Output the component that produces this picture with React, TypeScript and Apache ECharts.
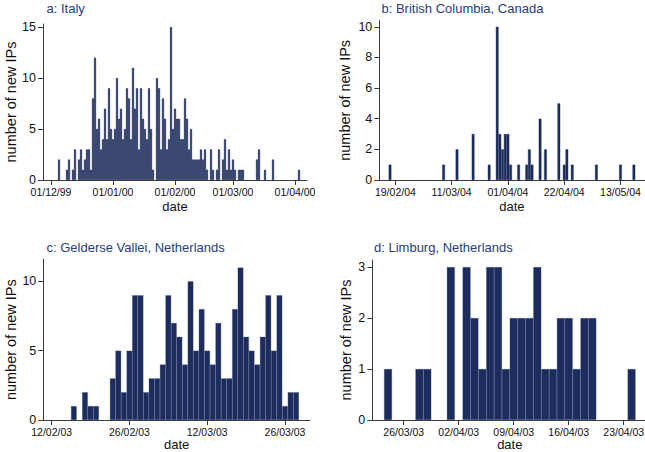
import React, { useEffect, useRef } from 'react';
import * as echarts from 'echarts';

// ---------- data ----------
// a: Italy (daily counts starting at italyStart)
const italyAxisRange = ['1999-11-27', '2000-04-07'];
const italyStart = '1999-12-05';
const italyCounts = [
  2, 0, 0, 0, 1, 2, 0, 1, 3, 0,
  2, 3, 1, 2, 3, 3, 1, 8, 12, 5,
  6, 3, 4, 7, 4, 9, 5, 4, 5, 10,
  6, 7, 4, 5, 9, 8, 4, 11, 7, 9,
  3, 9, 6, 5, 4, 9, 5, 1, 0, 10,
  9, 3, 8, 6, 3, 4, 15, 5, 7, 6,
  6, 4, 4, 8, 6, 3, 5, 2, 2, 2,
  2, 3, 2, 3, 1, 0, 3, 1, 0, 1,
  3, 0, 2, 4, 1, 3, 1, 2, 1, 0,
  1, 1, 1, 0, 0, 0, 0, 0, 0, 2,
  3, 0, 0, 1, 0, 0, 0, 2, 0, 0,
  0, 0, 0, 0, 0, 0, 0, 0, 0, 0,
  1,
];
const italyTicks = ['01/12/99', '01/01/00', '01/02/00', '01/03/00', '01/04/00'];

// b: British Columbia, Canada
const bcAxisRange = ['2004-02-13', '2004-05-22'];
const bcDates = [
  '17/02/04', '08/03/04', '13/03/04', '19/03/04', '25/03/04', '28/03/04',
  '29/03/04', '30/03/04', '31/03/04', '01/04/04', '02/04/04', '05/04/04',
  '08/04/04', '09/04/04', '10/04/04', '13/04/04', '15/04/04', '20/04/04',
  '22/04/04', '23/04/04', '25/04/04', '04/05/04', '13/05/04', '18/05/04',
];
const bcCounts = [1, 1, 2, 3, 1, 10, 3, 2, 3, 3, 1, 1, 1, 2, 1, 4, 2, 5, 1, 2, 1, 1, 1, 1];
const bcTicks = ['19/02/04', '11/03/04', '01/04/04', '22/04/04', '13/05/04'];

// c: Gelderse Vallei, Netherlands (daily counts starting at gvStart)
const gvAxisRange = ['2003-02-11', '2003-03-30'];
const gvStart = '2003-02-16';
const gvCounts = [
  1, 0, 2, 1, 1, 0, 0, 3, 5, 2,
  5, 9, 9, 2, 3, 3, 4, 9, 7, 6,
  4, 10, 5, 8, 5, 4, 7, 3, 3, 8,
  11, 6, 5, 4, 6, 9, 5, 9, 1, 2,
  2,
];
const gvTicks = ['12/02/03', '26/02/03', '12/03/03', '26/03/03'];

// d: Limburg, Netherlands
const limAxisRange = ['2003-03-22', '2003-04-26'];
const limDates = [
  '24/03/03', '28/03/03', '29/03/03', '01/04/03', '03/04/03', '04/04/03',
  '05/04/03', '06/04/03', '07/04/03', '08/04/03', '09/04/03', '10/04/03',
  '11/04/03', '12/04/03', '13/04/03', '14/04/03', '15/04/03', '16/04/03',
  '17/04/03', '18/04/03', '19/04/03', '24/04/03',
];
const limCounts = [1, 1, 1, 3, 3, 2, 1, 3, 3, 1, 2, 2, 2, 3, 1, 1, 2, 2, 1, 2, 2, 1];
const limTicks = ['26/03/03', '02/04/03', '09/04/03', '16/04/03', '23/04/03'];

const titles = ['a: Italy', 'b: British Columbia, Canada', 'c: Gelderse Vallei, Netherlands', 'd: Limburg, Netherlands'];

// ---------- helpers ----------
const DAY = 86400000;
const pad = (n: number) => (n < 10 ? '0' + n : '' + n);
function parseISO(s: string) {
  const [y, m, d] = s.split('-').map(Number);
  return Date.UTC(y, m - 1, d);
}
function fmt(t: number) {
  const d = new Date(t);
  return `${pad(d.getUTCDate())}/${pad(d.getUTCMonth() + 1)}/${pad(d.getUTCFullYear() % 100)}`;
}
function dayRange(a: string, b: string) {
  const out: string[] = [];
  for (let t = parseISO(a); t <= parseISO(b); t += DAY) out.push(fmt(t));
  return out;
}
function seqMap(start: string, counts: number[]) {
  const m: Record<string, number> = {};
  const t0 = parseISO(start);
  counts.forEach((c, i) => { m[fmt(t0 + i * DAY)] = c; });
  return m;
}
function pairMap(dates: string[], counts: number[]) {
  const m: Record<string, number> = {};
  dates.forEach((d, i) => { m[d] = counts[i]; });
  return m;
}

const FONT = '"Liberation Sans", Arial, Helvetica, sans-serif';
const BAR = '#1c2c5c';
const TITLE = '#26407a';
const AXIS = '#3a3a3a';
const TEXT = '#111111';

const panelData = [
  { cats: dayRange(italyAxisRange[0], italyAxisRange[1]), map: seqMap(italyStart, italyCounts), ticks: italyTicks },
  { cats: dayRange(bcAxisRange[0], bcAxisRange[1]), map: pairMap(bcDates, bcCounts), ticks: bcTicks },
  { cats: dayRange(gvAxisRange[0], gvAxisRange[1]), map: seqMap(gvStart, gvCounts), ticks: gvTicks },
  { cats: dayRange(limAxisRange[0], limAxisRange[1]), map: pairMap(limDates, limCounts), ticks: limTicks },
];

const layout = [
  { grid: { left: 43, top: 24, width: 264, height: 156 }, yMax: 15.3, yTicks: [0, 5, 10, 15], boundaryGap: false, title: [46.5, 2], yNameGap: 25, xNameGap: 20, borderColor: BAR, border: 0.5 },
  { grid: { left: 379.3, top: 20.7, width: 265.3, height: 159.3 }, yMax: 10.4, yTicks: [0, 2, 4, 6, 8, 10], boundaryGap: false, title: [381.5, 1.5], yNameGap: 27, xNameGap: 20, borderColor: BAR, border: 0.4 },
  { grid: { left: 43.3, top: 259.3, width: 266.7, height: 160.7 }, yMax: 11.6, yTicks: [0, 5, 10], boundaryGap: true, title: [46.5, 241], yNameGap: 25, xNameGap: 18, borderColor: '#4a5886', border: 0.3 },
  { grid: { left: 372.3, top: 260, width: 275, height: 160 }, yMax: 3.14, yTicks: [0, 1, 2, 3], boundaryGap: false, title: [374, 241], yNameGap: 19, xNameGap: 18, borderColor: '#4a5886', border: 0.3 },
];

export default function App() {
  const ref = useRef<HTMLDivElement>(null);
  useEffect(() => {
    if (!ref.current) return;
    const chart = echarts.init(ref.current, undefined, { renderer: 'svg' });
    const option: any = {
      animation: false,
      backgroundColor: '#ffffff',
      title: titles.map((t, i) => ({
        text: t,
        left: layout[i].title[0],
        top: layout[i].title[1],
        padding: 0,
        textStyle: { fontSize: 13, fontWeight: 'normal', color: TITLE, fontFamily: FONT },
      })),
      grid: layout.map((l) => ({ ...l.grid, containLabel: false, outerBoundsMode: 'none' })),
      xAxis: panelData.map((p, i) => {
        const set = new Set(p.ticks);
        const pick = (_idx: number, val: string) => set.has(val);
        return {
          type: 'category',
          gridIndex: i,
          data: p.cats,
          boundaryGap: layout[i].boundaryGap,
          axisLine: { show: true, lineStyle: { color: AXIS, width: 1 } },
          axisTick: { show: true, length: 5, interval: pick, alignWithLabel: true, lineStyle: { color: AXIS, width: 1 } },
          axisLabel: { interval: pick, fontSize: 10.5, color: TEXT, margin: 6, fontFamily: FONT },
          splitLine: { show: false },
          name: 'date',
          nameLocation: 'middle',
          nameGap: layout[i].xNameGap,
          nameMoveOverlap: false,
          nameTextStyle: { fontSize: 13, lineHeight: 13, color: TEXT, fontFamily: FONT },
        };
      }),
      yAxis: layout.map((l, i) => ({
        type: 'value',
        gridIndex: i,
        min: 0,
        max: l.yMax,
        axisLine: { show: true, lineStyle: { color: AXIS, width: 1 } },
        axisTick: { show: true, length: 5, customValues: l.yTicks, lineStyle: { color: AXIS, width: 1 } },
        axisLabel: { customValues: l.yTicks, fontSize: 12.5, color: TEXT, margin: 7, fontFamily: FONT },
        splitLine: { show: false },
        name: 'number of new IPs',
        nameLocation: 'middle',
        nameGap: l.yNameGap,
        nameMoveOverlap: false,
        nameTextStyle: { fontSize: 14.5, color: TEXT, fontFamily: FONT },
      })),
      series: panelData.map((p, i) => ({
        type: 'bar',
        xAxisIndex: i,
        yAxisIndex: i,
        barWidth: '100%',
        silent: true,
        data: p.cats.map((c) => (p.map[c] ? p.map[c] : null)),
        itemStyle: { color: BAR, borderColor: layout[i].borderColor, borderWidth: layout[i].border },
      })),
    };
    chart.setOption(option);
    return () => chart.dispose();
  }, []);
  return (
    <div
      ref={ref}
      style={{ position: 'fixed', left: 0, top: 0, width: 645, height: 452, background: '#fff' }}
    />
  );
}
